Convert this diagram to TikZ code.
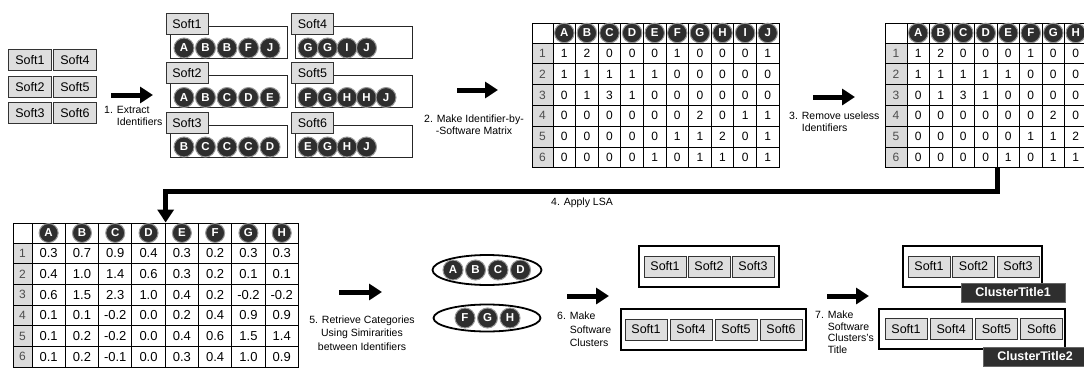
\documentclass[tikz,border=0pt]{standalone}
\usepackage{fontspec}
\setmainfont{Liberation Sans}
\usetikzlibrary{arrows.meta,shapes.geometric,positioning}

\tikzset{
  soft/.style={draw=black!80, line width=0.9pt, fill=black!13,
    minimum width=42pt, minimum height=21pt, inner sep=0pt,
    font=\fontsize{12.5}{12.5}\selectfont},
  ident/.style={circle, fill=black!82, draw=black!40, line width=1pt,
    minimum size=#1, inner sep=0pt, text=white,
    font=\bfseries\fontsize{11.5}{11.5}\selectfont},
  ident/.default=20pt,
  idbox/.style={draw=black!85, line width=1pt, fill=white,
    minimum width=117pt, minimum height=32pt, inner sep=0pt},
  cell/.style={draw, line width=0.9pt, fill=white, minimum width=#1,
    minimum height=20.8pt, inner sep=0pt, font=\fontsize{12}{12}\selectfont},
  rowlab/.style={cell=#1, fill=black!14, text=black!70},
  bigarrow/.style={line width=5pt, -{Triangle[length=13pt,width=16pt]}},
  stepnote/.style={font=\fontsize{10.5}{12}\selectfont, inner sep=0pt},
  idset/.style={ellipse, draw, line width=1.8pt, fill=white, inner sep=0pt},
  cluster/.style={draw, line width=2.2pt, fill=white, inner sep=0pt},
  ctitle/.style={draw=black!60, fill=black!82, text=white, inner sep=0pt,
    minimum width=104pt, minimum height=19pt,
    font=\bfseries\fontsize{12.5}{12.5}\selectfont},
}

\begin{document}
\begin{tikzpicture}[x=1pt, y=-1pt]
\fill[white] (0,0) rectangle (1084,367);
\useasboundingbox (0,0) rectangle (1084,367);
\clip (0,0) rectangle (1084,367);

% software
\foreach \s/\x/\y in {1/30/60, 2/30/87, 3/30/113, 4/75/60, 5/75/87, 6/75/113}
  \node[soft, minimum width=43pt] (in\s) at (\x,\y) {Soft\s};

\coordinate (s1) at (111,95);
\draw[bigarrow] (s1) -- ++(42,0);
\node[stepnote, anchor=north west, align=left] (n1) at (104,106)
  {1. Extract\\\phantom{1. }Identifiers};

% identifiers of each software
\foreach \s/\col/\row/\ids in {1/0/0/{A,B,B,F,J},2/0/1/{A,B,C,D,E},3/0/2/{B,C,C,C,D},4/1/0/{G,G,I,J},5/1/1/{F,G,H,H,J},6/1/2/{E,G,H,J}} {
  \node[idbox] (g\s) at ({228.5+125.5*\col}, {42+49.5*\row}) {};
  \node[soft, anchor=south west] (gl\s) at ([xshift=-4pt, yshift=-9pt]g\s.north west) {Soft\s};
  \foreach \l [count=\i] in \ids
    \node[ident] (g\s-\i) at ({184+124*\col+(21.5-2*\col)*(\i-1)}, {48+49.5*\row}) {\l};
}

\coordinate (s2) at (457,90);
\draw[bigarrow] (s2) -- ++(41,0);
\node[stepnote, align=center] (n2) at (474,125)
  {2. Make Identifier-by-\\-Software Matrix};

% identifier-by-software matrix
\node[cell=21pt, minimum height=20pt] (ma-0-0) at (542.5,33) {};
\foreach \l [count=\c] in {A,...,J} {
  \node[cell=22.6pt, minimum height=20pt] (ma-0-\c) at (541.7+22.6*\c,33) {};
  \node[ident=19.5pt] (ma-id-\c) at (ma-0-\c) {\l};
}
\foreach \vals [count=\r] in {{1,2,0,0,0,1,0,0,0,1},{1,1,1,1,1,0,0,0,0,0},{0,1,3,1,0,0,0,0,0,0},{0,0,0,0,0,0,2,0,1,1},{0,0,0,0,0,1,1,2,0,1},{0,0,0,0,1,0,1,1,0,1}} {
  \node[rowlab=21pt] (ma-\r-0) at (542.5,32.6+20.8*\r) {\r};
  \foreach \v [count=\c] in \vals
    \node[cell=22.6pt] (ma-\r-\c) at (541.7+22.6*\c,32.6+20.8*\r) {\v};
}

\coordinate (s3) at (813,97);
\draw[bigarrow] (s3) -- ++(42,0);
\node[stepnote, anchor=north west, align=left] (n3) at (789,112)
  {3. Remove useless\\\phantom{3. }Identifiers};

% matrix without useless identifiers
\node[cell=22pt, minimum height=20pt] (mb-0-0) at (896,33) {};
\foreach \l [count=\c] in {A,...,H} {
  \node[cell=22.5pt, minimum height=20pt] (mb-0-\c) at (895.75+22.5*\c,33) {};
  \node[ident=19.5pt] (mb-id-\c) at (mb-0-\c) {\l};
}
\foreach \vals [count=\r] in {{1,2,0,0,0,1,0,0},{1,1,1,1,1,0,0,0},{0,1,3,1,0,0,0,0},{0,0,0,0,0,0,2,0},{0,0,0,0,0,1,1,2},{0,0,0,0,1,0,1,1}} {
  \node[rowlab=22pt] (mb-\r-0) at (896,32.6+20.8*\r) {\r};
  \foreach \v [count=\c] in \vals
    \node[cell=22.5pt] (mb-\r-\c) at (895.75+22.5*\c,32.6+20.8*\r) {\v};
}

% LSA
\node[cell=19pt, minimum height=20pt] (mc-0-0) at (22.5,233) {};
\foreach \l [count=\c] in {A,...,H} {
  \node[cell=33.3pt, minimum height=20pt] (mc-0-\c) at (15.35+33.3*\c,233) {};
  \node[ident=19pt] (mc-id-\c) at (mc-0-\c) {\l};
}
\foreach \vals [count=\r] in {{0.3,0.7,0.9,0.4,0.3,0.2,0.3,0.3},{0.4,1.0,1.4,0.6,0.3,0.2,0.1,0.1},{0.6,1.5,2.3,1.0,0.4,0.2,-0.2,-0.2},{0.1,0.1,-0.2,0.0,0.2,0.4,0.9,0.9},{0.1,0.2,-0.2,0.0,0.4,0.6,1.5,1.4},{0.1,0.2,-0.1,0.0,0.3,0.4,1.0,0.9}} {
  \node[rowlab=19pt, minimum height=20.7pt] (mc-\r-0) at (22.5,232.65+20.7*\r) {\r};
  \foreach \v [count=\c] in \vals
    \node[cell=33.3pt, minimum height=20.7pt, font=\fontsize{13}{13}\selectfont]
      (mc-\r-\c) at (15.35+33.3*\c,232.65+20.7*\r) {\v};
}

\draw[bigarrow] (mb-6-4.south east) -- ++(0,23) -| (mc-0-4.north east);
\node[stepnote] (n4) at (582,203) {4. Apply LSA};

\coordinate (s5) at (339,292);
\draw[bigarrow] (s5) -- ++(43,0);
\node[stepnote, align=center, font=\fontsize{10.5}{13.5}\selectfont] (n5) at (362,333)
  {5. Retrieve Categories\\Using Simirarities\\between Identifiers};

% categories
\node[idset, minimum width=109pt, minimum height=30pt] (e1) at (487,270) {};
\foreach \l [count=\i] in {A,B,C,D}
  \node[ident] (e1-\i) at (453+22.5*\i-22.5,270) {\l};
\node[idset, minimum width=107pt, minimum height=27pt] (e2) at (487,318) {};
\foreach \l [count=\i] in {F,G,H}
  \node[ident] (e2-\i) at (465+22.5*\i-22.5,318) {\l};

\coordinate (s6) at (567,296);
\draw[bigarrow] (s6) -- ++(42,0);
\node[stepnote, anchor=north west, align=left, font=\fontsize{10.5}{13.5}\selectfont] (n6) at (557,312)
  {6. Make\\\phantom{6. }Software\\\phantom{6. }Clusters};

% software clusters
\node[cluster, minimum width=140pt, minimum height=41pt] (c1) at (709,266.5) {};
\foreach \s [count=\i] in {1,2,3}
  \node[soft] (c1-\i) at (665+44*\i-44,266.5) {Soft\s};
\node[cluster, minimum width=185pt, minimum height=41pt] (c2) at (713.5,329.5) {};
\foreach \s [count=\i] in {1,4,5,6}
  \node[soft] (c2-\i) at (646+45*\i-45,329.5) {Soft\s};

\coordinate (s7) at (827,296);
\draw[bigarrow] (s7) -- ++(42,0);
\node[stepnote, anchor=north west, align=left, font=\fontsize{10.5}{11.5}\selectfont] (n7) at (815,311)
  {7. Make\\\phantom{7. }Software\\\phantom{7. }Clusters's\\\phantom{7. }Title};

% clusters with titles
\node[cluster, minimum width=139pt, minimum height=41pt] (t1) at (972.5,266.5) {};
\foreach \s [count=\i] in {1,2,3}
  \node[soft] (t1-\i) at (929+44.5*\i-44.5,266.5) {Soft\s};
\node[ctitle] (t1-title) at (1013,292.5) {ClusterTitle1};
\node[cluster, minimum width=186pt, minimum height=40pt] (t2) at (972,329) {};
\foreach \s [count=\i] in {1,4,5,6}
  \node[soft] (t2-\i) at (906+45.2*\i-45.2,329) {Soft\s};
\node[ctitle] (t2-title) at (1035,356.5) {ClusterTitle2};
\end{tikzpicture}
\end{document}
